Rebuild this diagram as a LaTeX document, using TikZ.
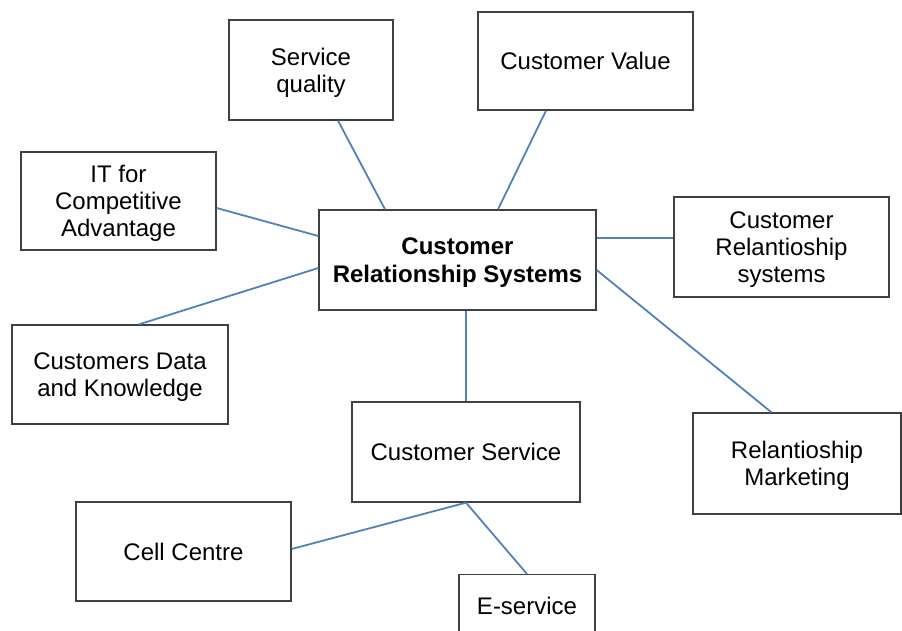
\documentclass[tikz,border=0pt]{standalone}
\usepackage{fontspec}
\setmainfont{Liberation Sans}
\tikzset{
  box/.style={draw=black!75, line width=1.3pt, fill=white, align=center,
    font=\fontsize{24}{27}\selectfont, inner sep=0pt, text depth=0pt},
  hub/.style={box, font=\fontsize{24}{28}\selectfont\bfseries},
  link/.style={color={rgb,255:red,79;green,129;blue,189}, line width=1.8pt}
}
\begin{document}
\begin{tikzpicture}[x=1pt,y=-1pt]
\useasboundingbox (0,0) rectangle (902,630);
% boxes
\node[hub, minimum width=277, minimum height=100] (crs) at (457.5,260) {Customer\\Relationship Systems};
\node[box, minimum width=164, minimum height=100] (sq) at (311,70) {Service\\quality};
\node[box, minimum width=215, minimum height=98] (cv) at (585.5,61) {Customer Value};
\node[box, minimum width=195, minimum height=98] (it) at (118.5,201) {IT for\\Competitive\\Advantage};
\node[box, minimum width=215, minimum height=100] (crsys) at (781.5,247) {Customer\\Relantioship\\systems};
\node[box, minimum width=216, minimum height=99] (cdk) at (120,374.5) {Customers Data\\and Knowledge};
\node[box, minimum width=228, minimum height=100] (cs) at (466,452) {Customer Service};
\node[box, minimum width=208, minimum height=101] (rm) at (797,463.5) {Relantioship\\Marketing};
\node[box, minimum width=215, minimum height=99] (cc) at (183.5,551.5) {Cell Centre};
\node[box, minimum width=136, minimum height=62, anchor=north] (es) at (527,574) {E-service};
% connectors
\draw[link] ([shift={(27,0)}]sq.south) -- ([shift={(-72.5,0)}]crs.north);
\draw[link] ([shift={(-39.5,0)}]cv.south) -- ([shift={(40.5,0)}]crs.north);
\draw[link] ([shift={(0,7)}]it.east) -- ([shift={(0,-24)}]crs.west);
\draw[link] ([shift={(0,-22)}]crs.east) -- ([shift={(0,-9)}]crsys.west);
\draw[link] ([shift={(19,0)}]cdk.north) -- ([shift={(0,8)}]crs.west);
\draw[link] ([shift={(8.5,0)}]crs.south) -- (cs.north);
\draw[link] ([shift={(0,10)}]crs.east) -- ([shift={(-25.5,0)}]rm.north);
\draw[link] ([shift={(0,-2.5)}]cc.east) -- (cs.south);
\draw[link] (cs.south) -- (es.north);
\end{tikzpicture}
\end{document}
